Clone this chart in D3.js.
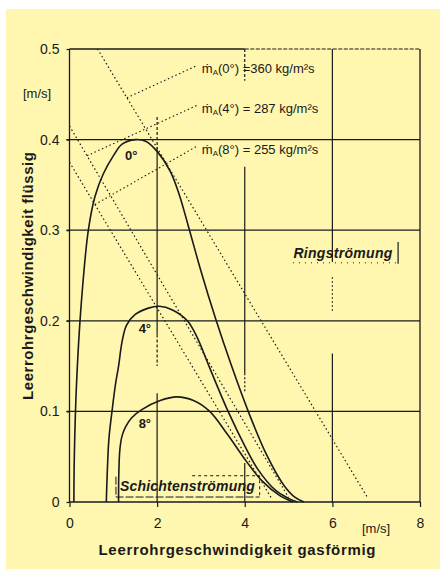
<!DOCTYPE html>
<meta charset="utf-8">
<head>
    <title>Leerrohrgeschwindigkeit flüssig / gasförmig</title>
    <script type="text/javascript" src="https://d3js.org/d3.v7.min.js"></script>
    <style>
        body { margin: 0; background: #fff; }
        text { font-family: "Liberation Sans", Arial, "DejaVu Sans", sans-serif; fill: #1a1a1a; }
    </style>
</head>
<body>
<script>
    // axis ticks
    var xTicks = [0, 2, 4, 6, 8];
    var yTicks = [0, 0.1, 0.2, 0.3, 0.4, 0.5];
    var yTickLabels = ["0", "0.1", "0.2", "0.3", "0.4", "0.5"];

    // curve names
    var angles = ["0°", "4°", "8°"];

    // boundary curves [u_gas, u_liquid]
    var curve0 = [[0.10, 0], [0.11, 0.05], [0.16, 0.13], [0.27, 0.22], [0.43, 0.30], [0.58, 0.337],
        [0.77, 0.362], [1.0, 0.382], [1.2, 0.395], [1.5, 0.40], [1.75, 0.398], [2.0, 0.387],
        [2.3, 0.365], [2.5, 0.34], [2.71, 0.305], [3.0, 0.255], [3.33, 0.203], [3.7, 0.15],
        [4.08, 0.10], [4.5, 0.052], [4.9, 0.018], [5.15, 0.005], [5.35, 0]];
    var curve4 = [[0.84, 0], [0.86, 0.03], [0.9, 0.07], [0.97, 0.10], [1.05, 0.13], [1.12, 0.15],
        [1.2, 0.177], [1.3, 0.195], [1.5, 0.207], [1.8, 0.214], [2.05, 0.216], [2.35, 0.212],
        [2.69, 0.20], [2.9, 0.183], [3.2, 0.148], [3.62, 0.10], [4.0, 0.062], [4.3, 0.036],
        [4.7, 0.013], [5.0, 0.004], [5.2, 0]];
    var curve8 = [[1.12, 0], [1.125, 0.03], [1.15, 0.058], [1.2, 0.073], [1.28, 0.083], [1.42, 0.093],
        [1.65, 0.102], [2.07, 0.112], [2.45, 0.116], [2.83, 0.112], [3.2, 0.10], [3.6, 0.075],
        [4.05, 0.044], [4.4, 0.023], [4.8, 0.007], [5.1, 0]];

    // lines of constant mass flux (start, end)
    var fluxValues = ["=360 kg/m²s", "= 287 kg/m²s", "= 255 kg/m²s"];
    var fluxLines = [[[0.64, 0.5], [6.8, 0.005]],
                     [[0.0, 0.415], [5.0, 0.005]],
                     [[0.0, 0.375], [4.6, 0.005]]];

    var width = 440, height = 569;

    var svg = d3.select('body')
        .append('svg')
        .attr('width', width)
        .attr('height', height);

    svg.append('rect').attr('width', width).attr('height', height).attr('fill', '#fff');
    svg.append('rect').attr('x', 6).attr('y', 9)
        .attr('width', width - 6).attr('height', height - 9)
        .attr('fill', '#fff6b0');

    var x = d3.scaleLinear().domain([0, 8]).range([69.5, 420]);
    var y = d3.scaleLinear().domain([0, 0.5]).range([502, 49]);

    var ink = '#1a1a1a';
    var g = svg.append('g');

    // horizontal grid
    g.selectAll('.hgrid')
        .data(yTicks.slice(1, 5))
        .enter().append('line')
        .attr('x1', x(0) - 3).attr('x2', x(8))
        .attr('y1', d => y(d)).attr('y2', d => y(d))
        .attr('stroke', ink).attr('stroke-width', 1.2);

    // vertical grid, broken where the scan has labels in it
    var vSegs = [
        [2, 0.425, 0.39, '3,2'], [2, 0.39, 0.185, null], [2, 0.185, 0.15, '3,2'], [2, 0.12, 0, null],
        [4, 0.5, 0.465, '3,2'], [4, 0.37, 0.142, null], [4, 0.142, 0.12, '2,2'], [4, 0.043, 0, null],
        [6, 0.5, 0.265, null], [6, 0.248, 0.21, '1.5,2.5'], [6, 0.164, 0, null]
    ];
    g.selectAll('.vgrid')
        .data(vSegs)
        .enter().append('line')
        .attr('x1', d => x(d[0])).attr('x2', d => x(d[0]))
        .attr('y1', d => y(d[1])).attr('y2', d => y(d[2]))
        .attr('stroke', ink).attr('stroke-width', 1.2)
        .attr('stroke-dasharray', d => d[3]);

    // frame
    g.append('line').attr('x1', x(0)).attr('x2', x(4)).attr('y1', y(0.5)).attr('y2', y(0.5))
        .attr('stroke', ink).attr('stroke-width', 1.3);
    g.append('line').attr('x1', x(4)).attr('x2', x(8)).attr('y1', y(0.5)).attr('y2', y(0.5))
        .attr('stroke', ink).attr('stroke-width', 1.1).attr('stroke-dasharray', '4,1.5');
    g.append('line').attr('x1', x(8)).attr('x2', x(8)).attr('y1', y(0.5)).attr('y2', y(0))
        .attr('stroke', ink).attr('stroke-width', 1.3);
    g.append('line').attr('x1', x(0)).attr('x2', x(0)).attr('y1', y(0.5)).attr('y2', y(0))
        .attr('stroke', ink).attr('stroke-width', 1.3);
    g.append('line').attr('x1', x(0)).attr('x2', x(8)).attr('y1', y(0)).attr('y2', y(0))
        .attr('stroke', ink).attr('stroke-width', 1.6);

    // axes (ticks + labels only)
    var xAxis = svg.append('g')
        .attr('transform', 'translate(0,' + y(0) + ')')
        .call(d3.axisBottom(x).tickValues(xTicks).tickSize(5).tickPadding(11).tickFormat(d3.format('d')));
    var yAxis = svg.append('g')
        .attr('transform', 'translate(' + x(0) + ',0)')
        .call(d3.axisLeft(y).tickValues(yTicks).tickSize(3).tickPadding(7)
            .tickFormat((d, i) => yTickLabels[i]));
    [xAxis, yAxis].forEach(function(a) {
        a.select('.domain').remove();
        a.selectAll('line').attr('stroke', ink).attr('stroke-width', 1.2);
        a.selectAll('text').attr('font-size', 14).attr('font-family', null).style('fill', ink);
    });

    // mass flux lines
    var lineGen = d3.line().x(d => x(d[0])).y(d => y(d[1]));
    g.selectAll('.flux')
        .data(fluxLines)
        .enter().append('path')
        .attr('d', lineGen)
        .attr('fill', 'none').attr('stroke', ink).attr('stroke-width', 1.2)
        .attr('stroke-dasharray', '1.5,2.6');

    // leaders from each flux line to its label
    var leaderX = [1.31, 0.40, 0.58];
    var labelY = [0.478, 0.434, 0.389];
    fluxLines.forEach(function(l, i) {
        var t = (leaderX[i] - l[0][0]) / (l[1][0] - l[0][0]);
        var ly = l[0][1] + t * (l[1][1] - l[0][1]);
        g.append('path')
            .attr('d', lineGen([[leaderX[i], ly], [2.92, labelY[i] + 0.004]]))
            .attr('fill', 'none').attr('stroke', ink).attr('stroke-width', 1.1)
            .attr('stroke-dasharray', '1.5,2.6');
        var t1 = g.append('text')
            .attr('x', x(3.02)).attr('y', y(labelY[i]) + 4.5)
            .attr('font-size', 13);
        t1.append('tspan').text('ṁ');
        t1.append('tspan').attr('font-size', 8).attr('dy', 2).text('A');
        t1.append('tspan').attr('dy', -2).text('(' + angles[i] + ') ' + fluxValues[i]);
    });

    // boundary curves
    var curveGen = d3.line().x(d => x(d[0])).y(d => y(d[1])).curve(d3.curveCatmullRom.alpha(0.5));
    g.selectAll('.bound')
        .data([curve0, curve4, curve8])
        .enter().append('path')
        .attr('d', curveGen)
        .attr('fill', 'none').attr('stroke', ink).attr('stroke-width', 1.6);

    // angle labels
    var angleAt = [[1.41, 0.383], [1.72, 0.192], [1.72, 0.087]];
    g.selectAll('.ang')
        .data(angles)
        .enter().append('text')
        .attr('x', (d, i) => x(angleAt[i][0])).attr('y', (d, i) => y(angleAt[i][1]) + 5)
        .attr('text-anchor', 'middle').attr('font-size', 13).attr('font-weight', 'bold')
        .text(d => d);

    // regime labels
    g.append('text').attr('x', x(5.11)).attr('y', y(0.269))
        .attr('font-size', 14).attr('font-weight', 'bold').attr('font-style', 'italic')
        .attr('textLength', 99).text('Ringströmung');
    g.append('line').attr('x1', x(5.1)).attr('x2', x(7.45)).attr('y1', y(0.264)).attr('y2', y(0.264))
        .attr('stroke', ink).attr('stroke-width', 1).attr('stroke-dasharray', '1,5');
    g.append('line').attr('x1', x(7.5)).attr('x2', x(7.5)).attr('y1', y(0.287)).attr('y2', y(0.263))
        .attr('stroke', ink).attr('stroke-width', 1.2);

    g.append('text').attr('x', x(1.15)).attr('y', y(0.0125))
        .attr('font-size', 14).attr('font-weight', 'bold').attr('font-style', 'italic')
        .attr('textLength', 135).text('Schichtenströmung');
    g.append('path')
        .attr('d', lineGen([[1.06, 0.028], [1.06, 0.0055], [4.34, 0.0055]]))
        .attr('fill', 'none').attr('stroke', ink).attr('stroke-width', 1).attr('stroke-dasharray', '8,2');
    g.append('path')
        .attr('d', lineGen([[2.8, 0.029], [4.34, 0.029], [4.34, 0.0055]]))
        .attr('fill', 'none').attr('stroke', ink).attr('stroke-width', 1).attr('stroke-dasharray', '3,3');

    // units
    svg.append('text').attr('x', 23).attr('y', 98).attr('font-size', 13).text('[m/s]');
    svg.append('text').attr('x', 362).attr('y', 533).attr('font-size', 13).text('[m/s]');

    // axis titles
    svg.append('text')
        .attr('x', 237).attr('y', 555)
        .attr('text-anchor', 'middle').attr('font-size', 15).attr('font-weight', 'bold')
        .attr('textLength', 277)
        .text('Leerrohrgeschwindigkeit gasförmig');
    svg.append('text')
        .attr('transform', 'translate(33,276) rotate(-90)')
        .attr('text-anchor', 'middle').attr('font-size', 15).attr('font-weight', 'bold')
        .attr('textLength', 248)
        .text('Leerrohrgeschwindigkeit flüssig');
</script>
</body>
</html>
